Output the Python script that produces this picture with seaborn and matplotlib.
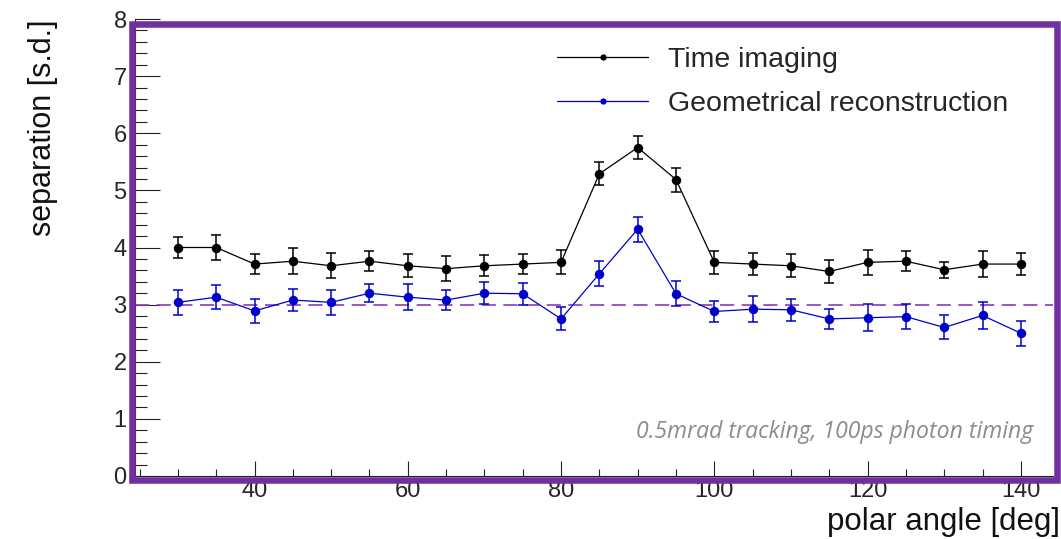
import matplotlib
matplotlib.use("Agg")
import matplotlib.pyplot as plt
import seaborn as sns
import pandas as pd
from matplotlib.lines import Line2D
from matplotlib.patches import Rectangle
from matplotlib.ticker import MultipleLocator

# ---- data ----
angles = [30, 35, 40, 45, 50, 55, 60, 65, 70, 75, 80, 85, 90, 95,
          100, 105, 110, 115, 120, 125, 130, 135, 140]
time_imaging = [4.00, 4.00, 3.71, 3.76, 3.68, 3.76, 3.68, 3.63, 3.68, 3.71, 3.74, 5.29,
                5.75, 5.19, 3.74, 3.71, 3.68, 3.58, 3.74, 3.76, 3.61, 3.71, 3.71]
time_imaging_err = [0.18, 0.22, 0.17, 0.23, 0.22, 0.18, 0.20, 0.22, 0.18, 0.17, 0.21, 0.20,
                    0.20, 0.21, 0.20, 0.19, 0.20, 0.20, 0.22, 0.18, 0.14, 0.22, 0.20]
geometrical = [3.04, 3.13, 2.89, 3.08, 3.04, 3.20, 3.13, 3.08, 3.20, 3.19, 2.75, 3.54,
               4.32, 3.19, 2.88, 2.92, 2.91, 2.75, 2.77, 2.79, 2.60, 2.81, 2.50]
geometrical_err = [0.22, 0.21, 0.21, 0.19, 0.22, 0.16, 0.23, 0.18, 0.19, 0.19, 0.20, 0.22,
                   0.22, 0.22, 0.19, 0.23, 0.19, 0.18, 0.24, 0.22, 0.21, 0.24, 0.22]
series_names = ["Time imaging", "Geometrical reconstruction"]
threshold = 3.0
note = "0.5mrad tracking, 100ps photon timing"

colors = {"Time imaging": "#000000", "Geometrical reconstruction": "#0000cc"}
purple = "#7030a0"

df = pd.concat([
    pd.DataFrame({"angle": angles, "sep": time_imaging, "err": time_imaging_err,
                  "series": series_names[0]}),
    pd.DataFrame({"angle": angles, "sep": geometrical, "err": geometrical_err,
                  "series": series_names[1]}),
])

sns.set_theme(style="ticks")
plt.rcParams["font.family"] = ["Liberation Sans", "DejaVu Sans"]

W, H = 1061, 539
fig = plt.figure(figsize=(W / 100, H / 100), dpi=100)
fig.patch.set_facecolor("white")
ax = fig.add_axes([135 / W, (H - 476) / H, (1053 - 135) / W, (476 - 19) / H])
ax.set_facecolor("white")

# threshold line
ax.axhline(threshold, color="#8a3ab9", lw=1.2, dashes=(8.5, 4.5), zorder=1)

for name in series_names:
    sub = df[df["series"] == name]
    ax.errorbar(sub["angle"], sub["sep"], yerr=sub["err"], fmt="none",
                ecolor=colors[name], elinewidth=1.1, capsize=3.3, capthick=1.1, zorder=2)

sns.lineplot(data=df, x="angle", y="sep", hue="series", palette=colors,
             hue_order=series_names, marker="o", markersize=6.8, markeredgewidth=0,
             linewidth=0.9, legend=False, ax=ax, zorder=3)

ax.set_xlim(24.4, 144.2)
ax.set_ylim(0, 8)
ax.set_xlabel("")
ax.set_ylabel("")
ax.xaxis.set_major_locator(MultipleLocator(20))
ax.xaxis.set_minor_locator(MultipleLocator(5))
ax.yaxis.set_major_locator(MultipleLocator(1))
ax.yaxis.set_minor_locator(MultipleLocator(0.2))
ax.tick_params(axis="x", which="major", direction="in", length=11, width=0.8,
               color="#222222", labelsize=17, pad=3)
ax.tick_params(axis="x", which="minor", direction="in", length=5.4, width=0.8,
               color="#222222")
ax.tick_params(axis="y", which="major", direction="in", length=18, width=0.8,
               color="#222222", labelsize=17, pad=6)
ax.tick_params(axis="y", which="minor", direction="in", length=8.6, width=0.8,
               color="#222222")
for s in ["top", "right"]:
    ax.spines[s].set_visible(False)
for s in ["left", "bottom"]:
    ax.spines[s].set_color("#222222")
    ax.spines[s].set_linewidth(0.8)

# legend
handles = [Line2D([], [], color=colors[n], lw=0.9, marker="o", markersize=4.5,
                  markeredgewidth=0) for n in series_names]
leg = fig.legend(handles, series_names, loc="center left",
                 bbox_to_anchor=(557 / W, 1 - 82 / H), bbox_transform=fig.transFigure,
                 frameon=False, fontsize=20.5, handlelength=3.2, handletextpad=0.7,
                 labelspacing=0.65, borderpad=0, borderaxespad=0)

# axis titles
fig.text(43 / W, 1 - 20 / H, "separation [s.d.]", rotation=90, ha="center", va="top",
         fontsize=22, color="#111111")
fig.text(1060 / W, 1 - 530 / H, "polar angle [deg]", ha="right", va="baseline",
         fontsize=22.5, color="#111111")

# annotation
fig.text(1033 / W, 1 - 438 / H, note, ha="right", va="baseline", fontsize=16.6,
         style="italic", color="#8c8c8c", family=["Open Sans", "DejaVu Sans"])

# purple slide frame
fig.add_artist(Rectangle((132 / W, 1 - 479.5 / H), (1056.5 - 132) / W, (479.5 - 24) / H,
                         transform=fig.transFigure, fill=False, ec=purple, lw=4.7,
                         joinstyle="miter", zorder=10))

fig.savefig("out.png", dpi=100, facecolor="white")
